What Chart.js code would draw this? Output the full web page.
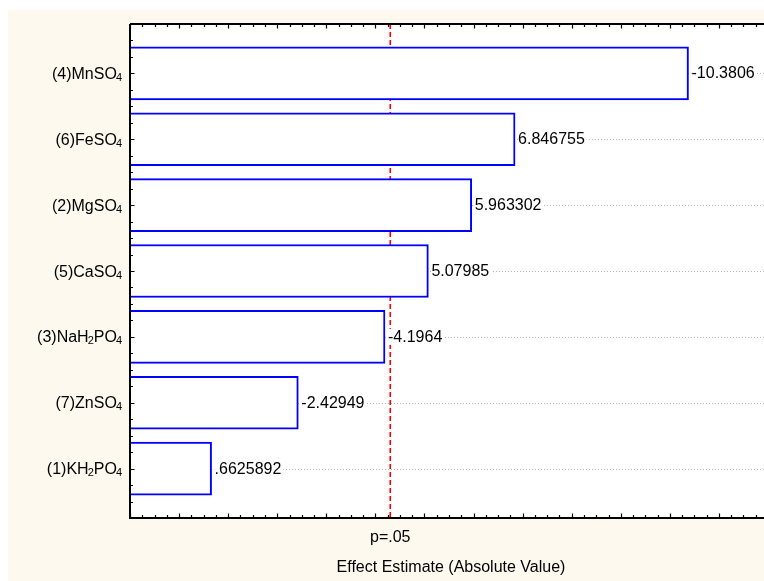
<!DOCTYPE html>
<html>
<head>
<meta charset="utf-8">
<script src="https://cdn.jsdelivr.net/npm/chart.js@4.4.1/dist/chart.umd.min.js"></script>
<style>
  html, body { margin: 0; padding: 0; background: #fff; overflow: hidden; }
  #paretoChart { display: block; }
</style>
</head>
<body>
<canvas id="paretoChart" width="768" height="581"></canvas>
<script>
// faktor, "_" = huruf berikutnya subscript
const factors = ["(4)MnSO_4", "(6)FeSO_4", "(2)MgSO_4", "(5)CaSO_4", "(3)NaH_2PO_4", "(7)ZnSO_4", "(1)KH_2PO_4"];
// estimasi efek (bertanda), bar = nilai absolut
const effects = [-10.3806, 6.846755, 5.963302, 5.07985, -4.1964, -2.42949, 0.6625892];
const effectLabels = ["-10.3806", "6.846755", "5.963302", "5.07985", "-4.1964", "-2.42949", ".6625892"];
const pLimit = 4.303; // garis p=.05
const pLabel = "p=.05";
const xTitle = "Effect Estimate (Absolute Value)";
const X_MIN = -1, X_MAX = 12;

const FONT = "16px 'Liberation Sans', Arial, sans-serif";
const SUB_FONT = "11px 'Liberation Sans', Arial, sans-serif";

// ---- tulis label dengan subscript ----
function parseLabel(str) {
  const parts = [];
  for (let i = 0; i < str.length; i++) {
    if (str[i] === "_" && i + 1 < str.length) {
      parts.push({ t: str[i + 1], sub: true });
      i++;
    } else {
      parts.push({ t: str[i], sub: false });
    }
  }
  return parts;
}

function drawRich(ctx, str, xRight, yBase) {
  const parts = parseLabel(str);
  let w = 0;
  parts.forEach(p => {
    ctx.font = p.sub ? SUB_FONT : FONT;
    p.w = ctx.measureText(p.t).width - (p.sub ? 1 : 0);
    w += p.w;
  });
  let x = xRight - w;
  parts.forEach(p => {
    ctx.font = p.sub ? SUB_FONT : FONT;
    ctx.fillText(p.t, x - (p.sub ? 1 : 0), p.sub ? yBase + 2 : yBase);
    x += p.w;
  });
}

const paretoPlugin = {
  id: "pareto",
  beforeDraw(chart) {
    const { ctx, chartArea: a, width, height } = chart;
    ctx.save();
    ctx.fillStyle = "#ffffff";
    ctx.fillRect(0, 0, width, height);
    ctx.fillStyle = "#fdf9ef";
    ctx.fillRect(8, 10, width - 8, height - 10);
    ctx.fillStyle = "#ffffff";
    ctx.fillRect(a.left, a.top, a.right - a.left, a.bottom - a.top);
    ctx.restore();
  },
  beforeDatasetsDraw(chart) {
    const { ctx, chartArea: a, scales } = chart;
    ctx.save();
    // grid titik-titik
    ctx.strokeStyle = "#b4b4b4";
    ctx.lineWidth = 1;
    ctx.setLineDash([1, 2]);
    factors.forEach((f, i) => {
      const y = Math.round(scales.y.getPixelForValue(i + 1)) + 0.5;
      ctx.beginPath();
      ctx.moveTo(a.left, y);
      ctx.lineTo(a.right, y);
      ctx.stroke();
    });

    // garis batas p=.05 (di belakang bar)
    const px = scales.x.getPixelForValue(pLimit);
    ctx.strokeStyle = "#ff0000";
    ctx.lineWidth = 1.6;
    ctx.setLineDash([5, 3]);
    ctx.beginPath();
    ctx.moveTo(px, a.top);
    ctx.lineTo(px, a.bottom);
    ctx.stroke();
    ctx.restore();
  },
  afterDatasetsDraw(chart) {
    const { ctx, chartArea: a, scales } = chart;
    const xs = scales.x, ys = scales.y;
    const px = xs.getPixelForValue(pLimit);
    ctx.save();

    // label nilai di ujung bar
    ctx.font = FONT;
    ctx.textBaseline = "middle";
    ctx.textAlign = "left";
    effects.forEach((v, i) => {
      const x = xs.getPixelForValue(Math.abs(v)) + 3;
      const y = ys.getPixelForValue(i + 1);
      const w = ctx.measureText(effectLabels[i]).width;
      ctx.fillStyle = "#ffffff";
      ctx.fillRect(x, y - 8, w + 2, 16);
      ctx.fillStyle = "#000000";
      ctx.fillText(effectLabels[i], x, y + 0.5);
    });

    // sumbu
    ctx.strokeStyle = "#000000";
    ctx.lineWidth = 2;
    ctx.beginPath();
    ctx.moveTo(a.left, a.top);
    ctx.lineTo(a.right, a.top);
    ctx.moveTo(a.left, a.top);
    ctx.lineTo(a.left, a.bottom);
    ctx.lineTo(a.right, a.bottom);
    ctx.stroke();

    // tick kecil ke dalam
    ctx.lineWidth = 1.2;
    ctx.beginPath();
    for (let v = X_MIN; v <= X_MAX + 1e-9; v += 0.25) {
      const x = Math.round(xs.getPixelForValue(v)) + 0.5;
      const len = Math.abs(v - Math.round(v)) < 1e-6 ? 4.5 : 3;
      ctx.moveTo(x, a.bottom);
      ctx.lineTo(x, a.bottom - len);
      ctx.moveTo(x, a.top);
      ctx.lineTo(x, a.top + len);
    }
    for (let v = ys.min; v <= ys.max + 1e-9; v += 0.25) {
      const y = Math.round(ys.getPixelForValue(v)) + 0.5;
      const len = Math.abs(v - Math.round(v)) < 1e-6 ? 4.5 : 3;
      ctx.moveTo(a.left, y);
      ctx.lineTo(a.left + len, y);
    }
    ctx.stroke();

    // label faktor
    ctx.fillStyle = "#000000";
    ctx.textBaseline = "alphabetic";
    ctx.textAlign = "left";
    factors.forEach((f, i) => {
      const y = ys.getPixelForValue(i + 1);
      drawRich(ctx, f, a.left - 8, y + 5.5);
    });

    // teks sumbu x
    ctx.font = FONT;
    ctx.textAlign = "center";
    ctx.textBaseline = "middle";
    ctx.fillText(pLabel, px, a.bottom + 20);
    ctx.fillText(xTitle, 451, a.bottom + 50);
    ctx.restore();
  }
};

const ctx = document.getElementById("paretoChart");
new Chart(ctx, {
  type: "bar",
  data: {
    labels: factors,
    datasets: [{
      data: effects.map((v, i) => ({ x: Math.abs(v), y: i + 1 })),
      base: X_MIN,
      backgroundColor: "#ffffff",
      borderColor: "#0000ff",
      borderWidth: 2,
      borderSkipped: "start",
      barThickness: 53
    }]
  },
  options: {
    indexAxis: "y",
    responsive: false,
    animation: false,
    layout: { padding: { left: 130, top: 24, right: 0, bottom: 63 } },
    scales: {
      x: { type: "linear", min: X_MIN, max: X_MAX, display: false },
      y: { type: "linear", min: 0.25, max: 7.75, reverse: true, offset: false, display: false }
    },
    plugins: { legend: { display: false }, tooltip: { enabled: false } }
  },
  plugins: [paretoPlugin]
});
</script>
</body>
</html>
